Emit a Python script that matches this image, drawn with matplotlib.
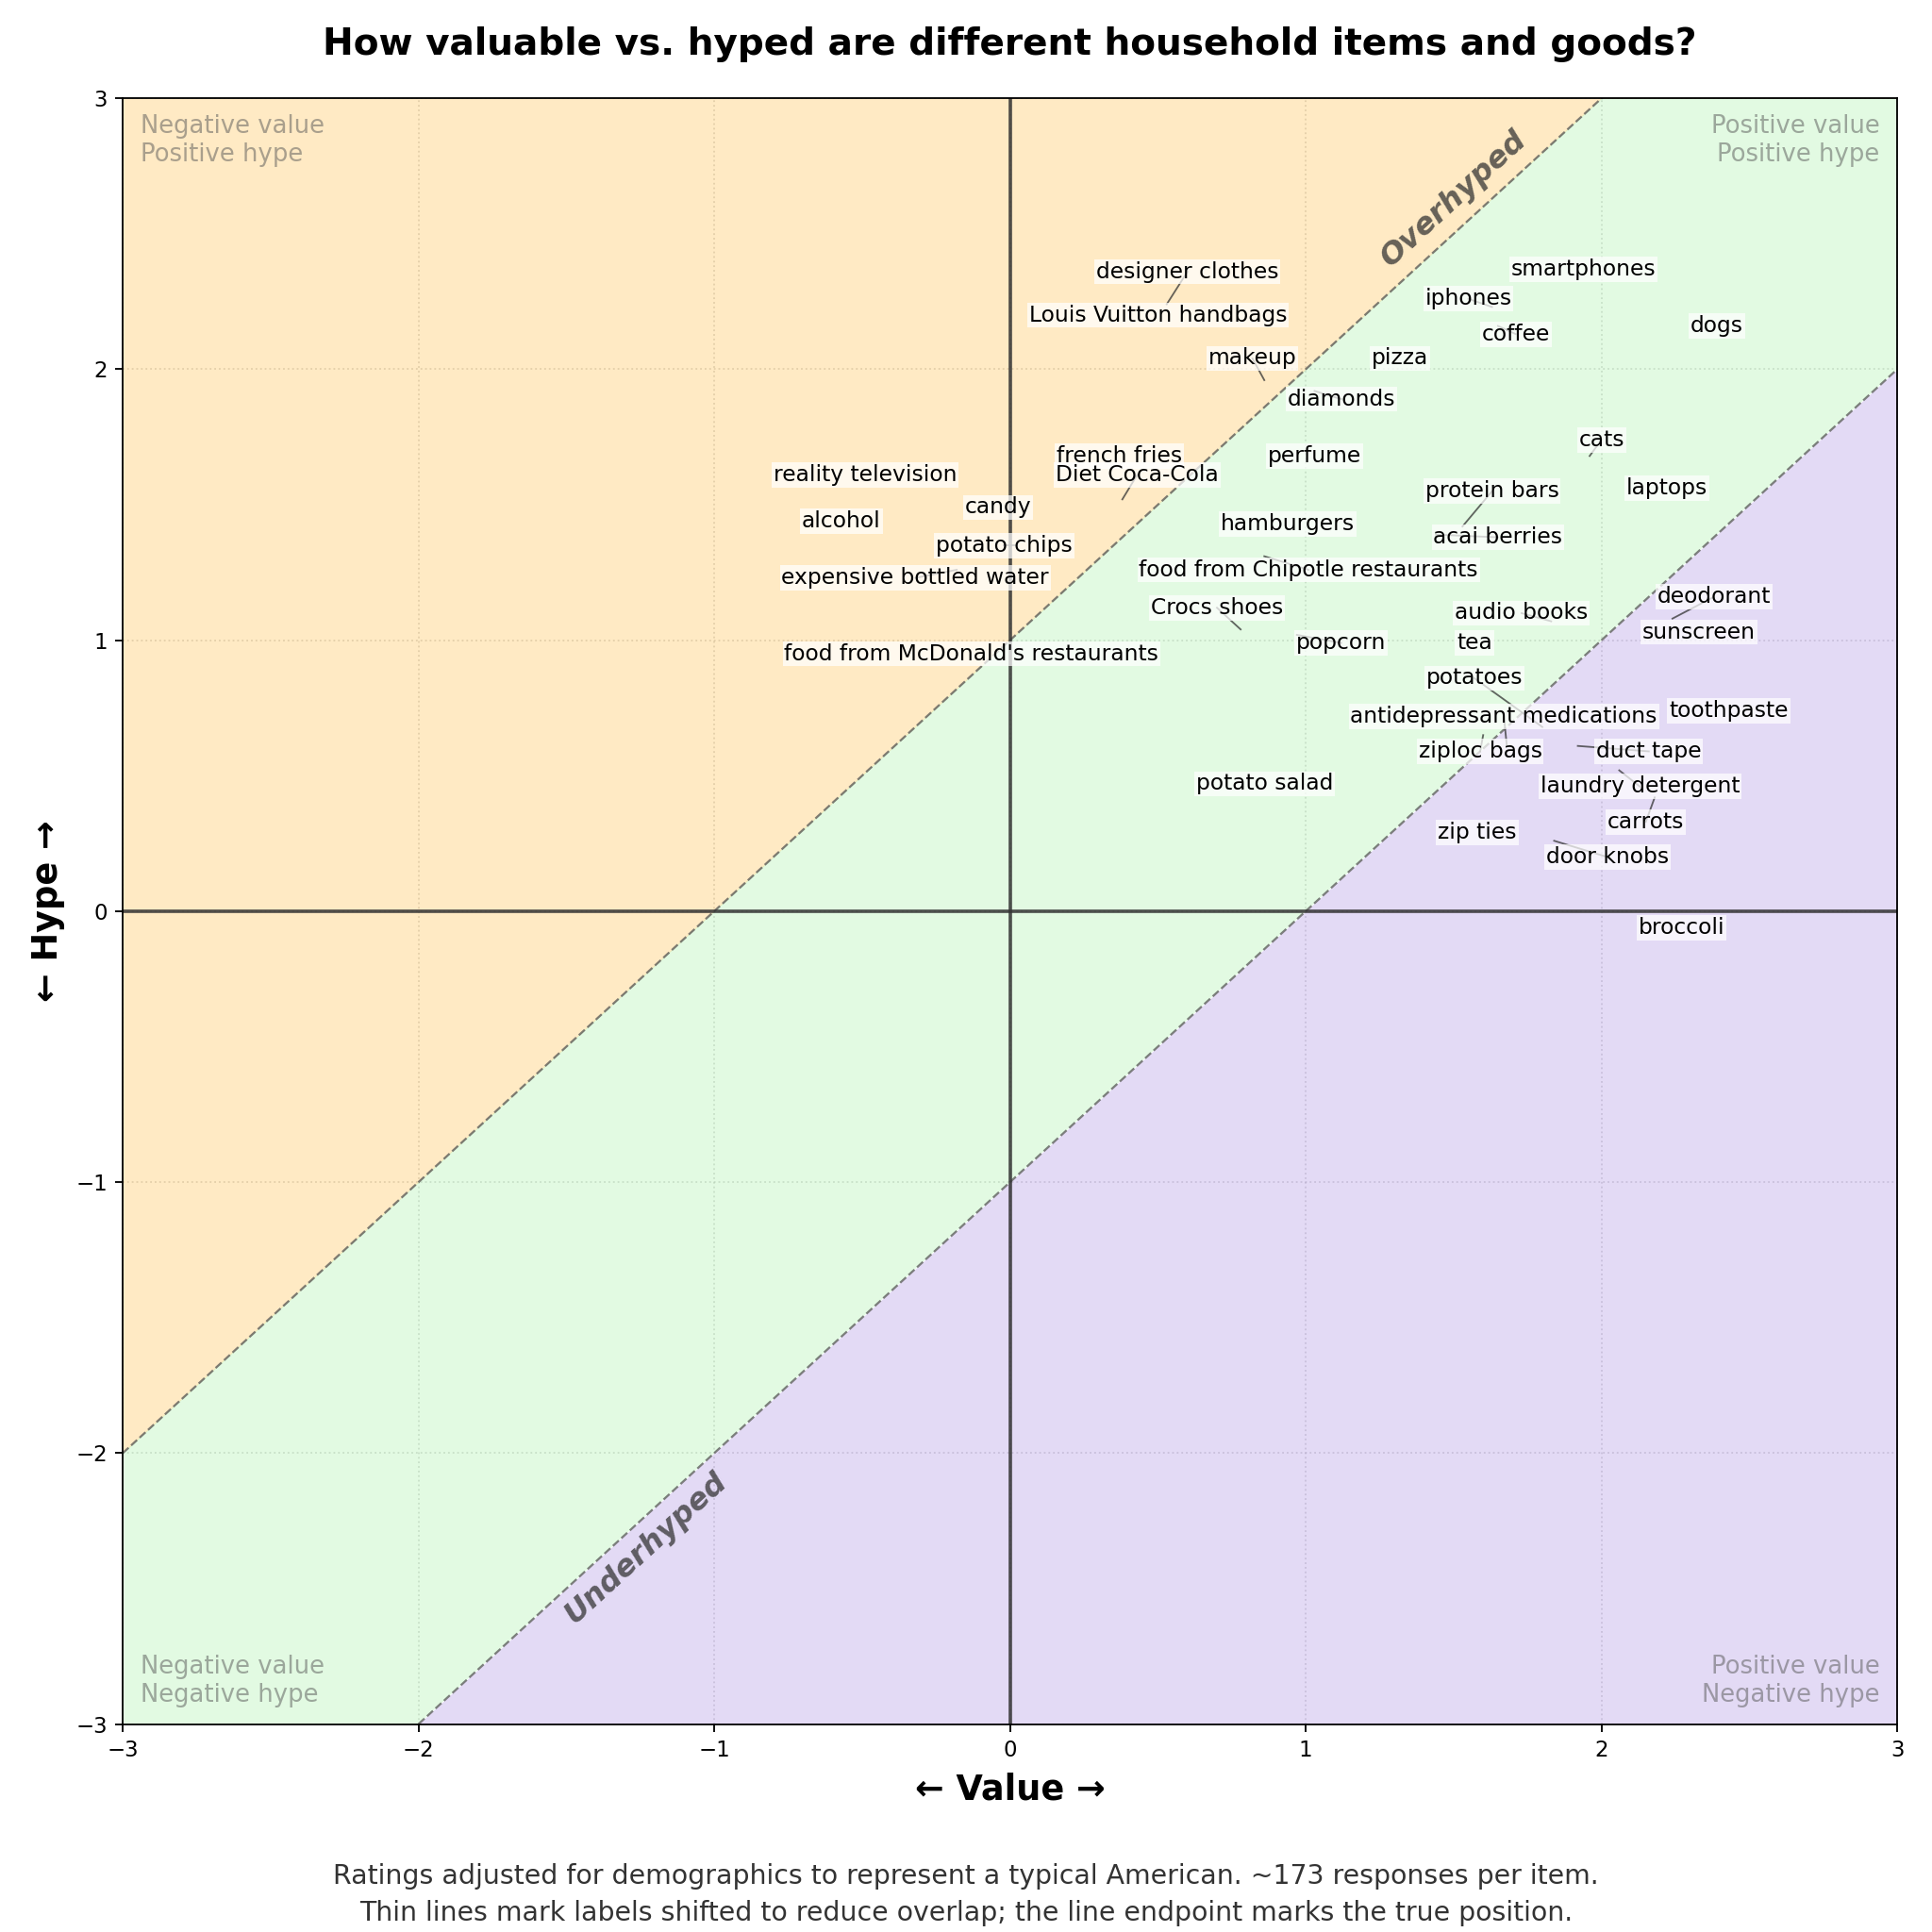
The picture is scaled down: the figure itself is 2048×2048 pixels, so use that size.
import numpy as np
import matplotlib
matplotlib.use("Agg")
import matplotlib.pyplot as plt

# ---------------------------------------------------------------
# data: true position (value, hype) of each item
# ---------------------------------------------------------------
items = [
    "smartphones", "iphones", "coffee", "dogs", "pizza", "diamonds", "makeup",
    "designer clothes", "Louis Vuitton handbags", "cats", "laptops",
    "protein bars", "acai berries", "perfume", "french fries", "Diet Coca-Cola",
    "reality television", "alcohol", "candy", "potato chips",
    "expensive bottled water", "food from McDonald's restaurants", "hamburgers",
    "food from Chipotle restaurants", "Crocs shoes", "popcorn", "audio books",
    "tea", "potatoes", "antidepressant medications", "ziploc bags", "duct tape",
    "laundry detergent", "carrots", "zip ties", "door knobs", "broccoli",
    "toothpaste", "deodorant", "sunscreen", "potato salad",
]
value = [
    1.94, 1.63, 1.65, 2.39, 1.32, 1.03, 0.86,
    0.53, 0.50, 1.96, 2.22,
    1.53, 1.44, 1.03, 0.37, 0.38,
    -0.49, -0.57, -0.04, 0.02,
    -0.18, -0.13, 0.94,
    0.86, 0.78, 0.97, 1.83,
    1.57, 1.80, 1.68, 1.60, 1.92,
    2.06, 2.18, 1.58, 1.84, 2.27,
    2.43, 2.24, 2.33, 0.86,
]
hype = [
    2.37, 2.23, 2.16, 2.16, 2.04, 1.92, 1.96,
    2.24, 2.20, 1.68, 1.56,
    1.42, 1.39, 1.68, 1.68, 1.52,
    1.61, 1.44, 1.49, 1.35,
    1.26, 0.95, 1.43,
    1.31, 1.04, 1.02, 1.07,
    0.99, 0.68, 0.61, 0.65, 0.61,
    0.52, 0.42, 0.29, 0.26, -0.06,
    0.74, 1.08, 1.03, 0.47,
]
# label shift (in data units) applied to reduce overlap
label_dx = [
    0.0, -0.08, 0.06, 0.0, 0.0, 0.09, -0.04,
    0.07, 0.0, 0.04, 0.0,
    0.10, 0.21, 0.0, 0.0, 0.05,
    0.0, 0.0, 0.0, -0.04,
    -0.14, 0.0, 0.0,
    0.15, -0.08, 0.15, -0.10,
    0.0, -0.23, -0.01, -0.01, 0.24,
    0.07, -0.03, 0.0, 0.18, 0.0,
    0.0, 0.14, 0.0, 0.0,
]
label_dy = [
    0.0, 0.03, -0.03, 0.0, 0.0, -0.03, 0.08,
    0.12, 0.0, 0.06, 0.0,
    0.13, -0.01, 0.0, 0.0, 0.09,
    0.0, 0.0, 0.0, 0.0,
    -0.03, 0.0, 0.0,
    -0.05, 0.08, -0.03, 0.03,
    0.0, 0.18, 0.11, -0.06, -0.02,
    -0.06, -0.09, 0.0, -0.06, 0.0,
    0.0, 0.08, 0.0, 0.0,
]

corner_texts = {
    "tl": "Negative value\nPositive hype",
    "tr": "Positive value\nPositive hype",
    "bl": "Negative value\nNegative hype",
    "br": "Positive value\nNegative hype",
}

title = "How valuable vs. hyped are different household items and goods?"
caption_1 = ("Ratings adjusted for demographics to represent a typical American. "
             "~173 responses per item.")
caption_2 = ("Thin lines mark labels shifted to reduce overlap; "
             "the line endpoint marks the true position.")

# ---------------------------------------------------------------
# figure
# ---------------------------------------------------------------
DPI = 165
fig = plt.figure(figsize=(2048 / DPI, 2048 / DPI), dpi=DPI)
ax = fig.add_axes([0.0635, 0.1076, 0.9185, 0.8415])

lim = 3
xs = np.linspace(-lim, lim, 200)

# regions
ax.fill_between(xs, xs + 1, lim, color="#FFA500", alpha=0.23, lw=0, zorder=1)
ax.fill_between(xs, xs - 1, xs + 1, color="#90EE90", alpha=0.26, lw=0, zorder=1)
ax.fill_between(xs, -lim, xs - 1, color="#9370DB", alpha=0.26, lw=0, zorder=1)

# diagonal boundaries
ax.plot(xs, xs + 1, ls="--", color="#555555", alpha=0.75, lw=1.0, zorder=2)
ax.plot(xs, xs - 1, ls="--", color="#555555", alpha=0.75, lw=1.0, zorder=2)

# zero lines
ax.axhline(0, color="#333333", alpha=0.85, lw=1.6, zorder=2)
ax.axvline(0, color="#333333", alpha=0.85, lw=1.6, zorder=2)

ax.grid(True, ls=":", color="#bbbbbb", alpha=0.5, lw=0.8)
ax.set_axisbelow(True)

# item labels with leader lines
for name, x, y, dx, dy in zip(items, value, hype, label_dx, label_dy):
    lx, ly = x + dx, y + dy
    if dx != 0 or dy != 0:
        ax.plot([x, lx], [y, ly], color="#333333", lw=0.8, alpha=0.75, zorder=3)
    ax.text(lx, ly, name, ha="center", va="center", fontsize=10.2, zorder=4,
            bbox=dict(boxstyle="square,pad=0.08", facecolor="white",
                      edgecolor="none", alpha=0.72))

# region names along the diagonals
ax.text(1.50, 2.63, "Overhyped", rotation=45, transform_rotates_text=True,
        rotation_mode="anchor", ha="center", va="center", fontsize=14,
        fontweight="bold", style="italic", color="#333333", alpha=0.75, zorder=3)
ax.text(-1.23, -2.35, "Underhyped", rotation=45, transform_rotates_text=True,
        rotation_mode="anchor", ha="center", va="center", fontsize=14,
        fontweight="bold", style="italic", color="#333333", alpha=0.75, zorder=3)

# quadrant captions
corner_kw = dict(fontsize=11.3, color="#555555", alpha=0.5, transform=ax.transAxes,
                 zorder=3)
ax.text(0.01, 0.99, corner_texts["tl"], ha="left", va="top", **corner_kw)
ax.text(0.99, 0.99, corner_texts["tr"], ha="right", va="top", multialignment="right",
        **corner_kw)
ax.text(0.01, 0.01, corner_texts["bl"], ha="left", va="bottom", **corner_kw)
ax.text(0.99, 0.01, corner_texts["br"], ha="right", va="bottom",
        multialignment="right", **corner_kw)

ax.set_xlim(-lim, lim)
ax.set_ylim(-lim, lim)
ax.set_xticks(range(-3, 4))
ax.set_yticks(range(-3, 4))
ax.tick_params(labelsize=10)

ax.set_xlabel("\u2190 Value \u2192", fontsize=16, fontweight="bold", labelpad=5)
ax.set_ylabel("\u2190 Hype \u2192", fontsize=16, fontweight="bold", labelpad=5)
ax.set_title(title, fontsize=17, fontweight="bold", pad=20)

fig.text(0.5, 0.0250, caption_1, ha="center", va="baseline", fontsize=12.4,
         color="#333333")
fig.text(0.5, 0.0060, caption_2, ha="center", va="baseline", fontsize=12.4,
         color="#333333")

fig.savefig("out.png", dpi=DPI)
